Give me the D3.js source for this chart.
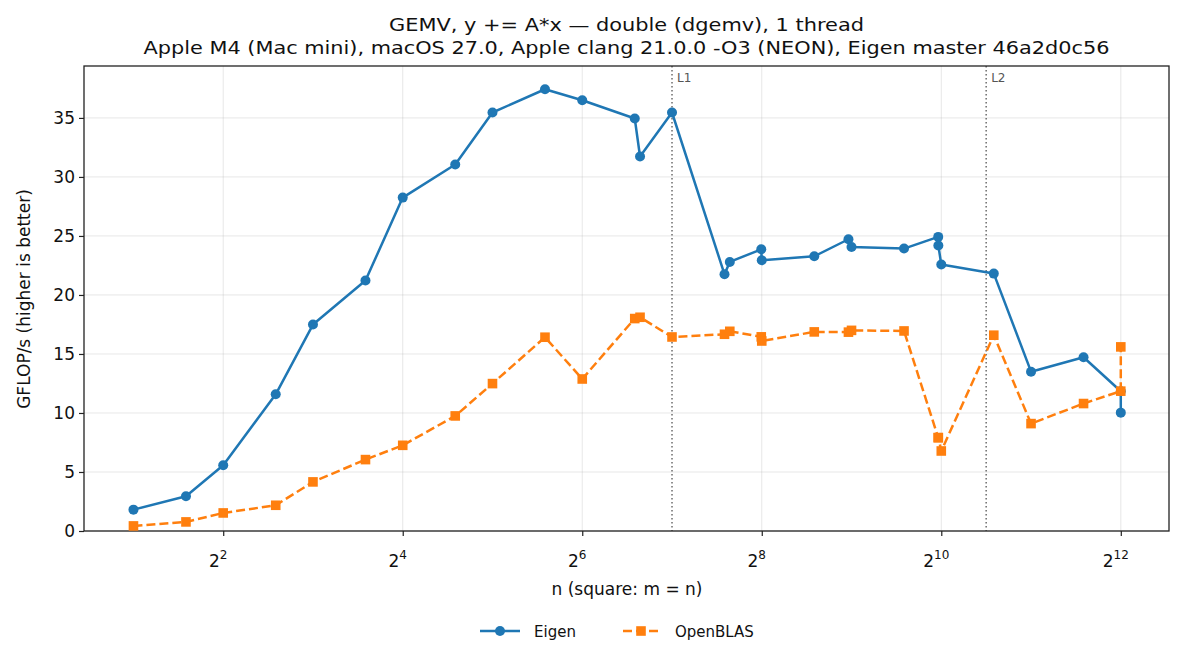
<!DOCTYPE html>
<html>
<head>
<meta charset="utf-8">
<script src="https://cdn.jsdelivr.net/npm/d3@7"></script>
<style>
  body { margin: 0; background: #fff; }
  svg { font-family: "DejaVu Sans", sans-serif; }
</style>
</head>
<body>
<svg id="chart" width="1185" height="664"></svg>
<script>
// matrix sizes n (m = n)
const sizes = [2, 3, 4, 6, 8, 12, 16, 24, 32, 48, 64, 96, 100, 128, 192, 200, 255, 256,
    384, 500, 512, 768, 1000, 1001, 1024, 1536, 2048, 3072, 4095, 4096];
const eigen = [1.81, 2.94, 5.57, 11.58, 17.49, 21.22, 28.25, 31.05, 35.46, 37.43, 36.5,
    34.95, 31.73, 35.46, 21.75, 22.8, 23.87, 22.94, 23.28, 24.72, 24.07, 23.93, 24.92,
    24.19, 22.58, 21.81, 13.5, 14.72, 11.84, 10.03];
const openblas = [0.43, 0.77, 1.53, 2.18, 4.16, 6.05, 7.26, 9.75, 12.49, 16.42, 12.88,
    18.0, 18.11, 16.44, 16.67, 16.92, 16.45, 16.1, 16.87, 16.85, 17.0, 16.95, 7.91, 7.91,
    6.78, 16.59, 9.1, 10.8, 11.85, 15.6];
const cacheLabels = ["L1", "L2"];
const cacheSizes = [128, 1448];
const xTickExps = [2, 4, 6, 8, 10, 12];
const yTicks = [0, 5, 10, 15, 20, 25, 30, 35];

const plotLeft = 84, plotRight = 1169, plotTop = 66, plotBottom = 531;

const svg = d3.select("#chart");

const x = d3.scaleLog().base(2)
    .domain([Math.pow(2, 0.449), Math.pow(2, 12.537)])
    .range([plotLeft, plotRight]);
const y = d3.scaleLinear().domain([0, 39.4]).range([plotBottom, plotTop]);

// grid
svg.append("g").selectAll("line").data(yTicks).join("line")
    .attr("x1", plotLeft).attr("x2", plotRight)
    .attr("y1", d => y(d)).attr("y2", d => y(d))
    .attr("stroke", "#b0b0b0").attr("stroke-opacity", 0.3).attr("stroke-width", 1);
svg.append("g").selectAll("line").data(xTickExps).join("line")
    .attr("x1", d => x(Math.pow(2, d))).attr("x2", d => x(Math.pow(2, d)))
    .attr("y1", plotTop).attr("y2", plotBottom)
    .attr("stroke", "#b0b0b0").attr("stroke-opacity", 0.3).attr("stroke-width", 1);

// cache boundaries
cacheSizes.forEach(function(n, i) {
    svg.append("line")
        .attr("x1", x(n)).attr("x2", x(n))
        .attr("y1", plotTop).attr("y2", plotBottom)
        .attr("stroke", "#555").attr("stroke-width", 1.3)
        .attr("stroke-dasharray", "1.5,2.5");
    svg.append("text")
        .attr("x", x(n) + 5).attr("y", plotTop + 16)
        .attr("font-size", 12).attr("fill", "#555")
        .text(cacheLabels[i]);
});

// axes
const xAxis = svg.append("g")
    .attr("transform", `translate(0,${plotBottom})`)
    .call(d3.axisBottom(x).tickValues(xTickExps.map(e => Math.pow(2, e)))
        .tickSize(5).tickFormat(""));
const yAxis = svg.append("g")
    .attr("transform", `translate(${plotLeft},0)`)
    .call(d3.axisLeft(y).tickValues(yTicks).tickSize(5));
[xAxis, yAxis].forEach(function(a) {
    a.select(".domain").remove();
    a.selectAll(".tick line").attr("stroke", "#222").attr("stroke-width", 1.2);
});
yAxis.selectAll(".tick text")
    .attr("font-size", 17).attr("fill", "#111").attr("x", -9)
    .attr("font-family", "DejaVu Sans");

const xLabels = svg.append("g").selectAll("text").data(xTickExps).join("text")
    .attr("x", d => x(Math.pow(2, d)) - 5)
    .attr("y", 567)
    .attr("text-anchor", "middle")
    .attr("font-size", 17).attr("fill", "#111");
xLabels.append("tspan").text("2");
xLabels.append("tspan").attr("dy", -8).attr("font-size", 12).text(d => d);

svg.append("rect")
    .attr("x", plotLeft).attr("y", plotTop)
    .attr("width", plotRight - plotLeft).attr("height", plotBottom - plotTop)
    .attr("fill", "none").attr("stroke", "#222").attr("stroke-width", 1.3);

// series
const blue = "#1f77b4", orange = "#ff7f0e";
const line = d3.line().x(d => x(d[0])).y(d => y(d[1]));
const eigenPts = sizes.map((n, i) => [n, eigen[i]]);
const blasPts = sizes.map((n, i) => [n, openblas[i]]);

svg.append("path").datum(eigenPts)
    .attr("d", line).attr("fill", "none")
    .attr("stroke", blue).attr("stroke-width", 2.5).attr("stroke-linejoin", "round");
svg.append("g").selectAll("circle").data(eigenPts).join("circle")
    .attr("cx", d => x(d[0])).attr("cy", d => y(d[1])).attr("r", 5)
    .attr("fill", blue);

svg.append("path").datum(blasPts)
    .attr("d", line).attr("fill", "none")
    .attr("stroke", orange).attr("stroke-width", 2.5)
    .attr("stroke-dasharray", "9,4");
svg.append("g").selectAll("rect").data(blasPts).join("rect")
    .attr("x", d => x(d[0]) - 4.8).attr("y", d => y(d[1]) - 4.8)
    .attr("width", 9.6).attr("height", 9.6)
    .attr("fill", orange);

// titles
svg.append("text")
    .attr("x", 626.5).attr("y", 31).attr("text-anchor", "middle")
    .attr("font-size", 17).attr("fill", "#111")
    .attr("textLength", 475).attr("lengthAdjust", "spacingAndGlyphs")
    .text("GEMV, y += A*x \u2014 double (dgemv), 1 thread");
svg.append("text")
    .attr("x", 626.5).attr("y", 54).attr("text-anchor", "middle")
    .attr("font-size", 17).attr("fill", "#111")
    .attr("textLength", 966).attr("lengthAdjust", "spacingAndGlyphs")
    .text("Apple M4 (Mac mini), macOS 27.0, Apple clang 21.0.0 -O3 (NEON), Eigen master 46a2d0c56");

svg.append("text")
    .attr("x", 627).attr("y", 595).attr("text-anchor", "middle")
    .attr("font-size", 17).attr("fill", "#111")
    .text("n (square: m = n)");
svg.append("text")
    .attr("transform", "translate(30,299) rotate(-90)")
    .attr("text-anchor", "middle")
    .attr("font-size", 17).attr("fill", "#111")
    .text("GFLOP/s (higher is better)");

// legend
const legendY = 631;
const lg = svg.append("g");
lg.append("line").attr("x1", 480).attr("x2", 520).attr("y1", legendY).attr("y2", legendY)
    .attr("stroke", blue).attr("stroke-width", 2.5);
lg.append("circle").attr("cx", 500).attr("cy", legendY).attr("r", 5).attr("fill", blue);
lg.append("text").attr("x", 534).attr("y", legendY + 6).attr("font-size", 15).attr("fill", "#111")
    .text("Eigen");
lg.append("line").attr("x1", 623).attr("x2", 661).attr("y1", legendY).attr("y2", legendY)
    .attr("stroke", orange).attr("stroke-width", 2.5).attr("stroke-dasharray", "9,4");
lg.append("rect").attr("x", 641 - 4.8).attr("y", legendY - 4.8).attr("width", 9.6).attr("height", 9.6)
    .attr("fill", orange);
lg.append("text").attr("x", 675).attr("y", legendY + 6).attr("font-size", 15).attr("fill", "#111")
    .text("OpenBLAS");
</script>
</body>
</html>
